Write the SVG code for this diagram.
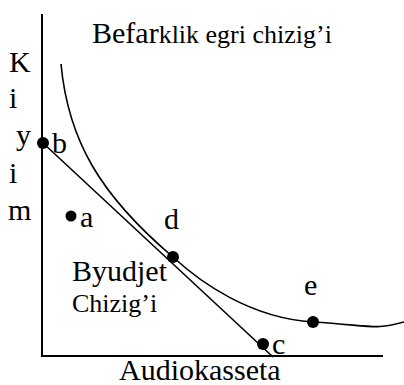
<svg xmlns="http://www.w3.org/2000/svg" width="404" height="385" viewBox="0 0 404 385">
<style>
  text { font-family: "Liberation Serif", "Times New Roman", serif; fill: #000; }
  .lbl { font-size: 30px; }
  .sm { font-size: 26px; }
  .ax { stroke: #000; stroke-width: 2; fill: none; }
  .ln { stroke: #000; stroke-width: 1.6; fill: none; }
  .dot { fill: #000; }
</style>
<rect width="404" height="385" fill="#fff"/>
<g id="connectors">
  <line class="ax" x1="42" y1="14" x2="42" y2="356"/>
  <line class="ax" x1="41" y1="356" x2="383" y2="356"/>
  <path id="indifference-curve" class="ln" d="M61,64 C68,140 100,195 173,257 C200,282 250,318 313,322 S375,330 404,322"/>
  <line id="budget-line" class="ln" x1="43" y1="143" x2="273" y2="357"/>
</g>
<g id="title"><text x="92" y="43"><tspan class="lbl">Befar</tspan><tspan class="sm">klik egri chizig’i</tspan></text></g>
<g id="y-label">
  <text class="lbl" x="9" y="72">K</text>
  <text class="lbl" x="9" y="108">i</text>
  <text class="lbl" x="16" y="145">y</text>
  <text class="lbl" x="9" y="183">i</text>
  <text class="lbl" x="8" y="220">m</text>
</g>
<g id="node-b"><circle class="dot" cx="43" cy="143" r="6"/><text class="lbl" x="52" y="153">b</text></g>
<g id="node-a"><circle class="dot" cx="71" cy="216" r="5.5"/><text class="lbl" x="80" y="227">a</text></g>
<g id="node-d"><circle class="dot" cx="173" cy="257" r="6"/><text class="lbl" x="164" y="229">d</text></g>
<g id="node-e"><circle class="dot" cx="313" cy="322" r="6"/><text class="lbl" x="304" y="295">e</text></g>
<g id="node-c"><circle class="dot" cx="263" cy="344" r="6"/><text class="lbl" x="272" y="354">c</text></g>
<g id="budget-label">
  <text class="lbl" x="72" y="281">Byudjet</text>
  <text class="sm" x="72" y="312">Chizig’i</text>
</g>
<g id="x-label"><text class="lbl" x="119" y="380">Audiokasseta</text></g>
</svg>
